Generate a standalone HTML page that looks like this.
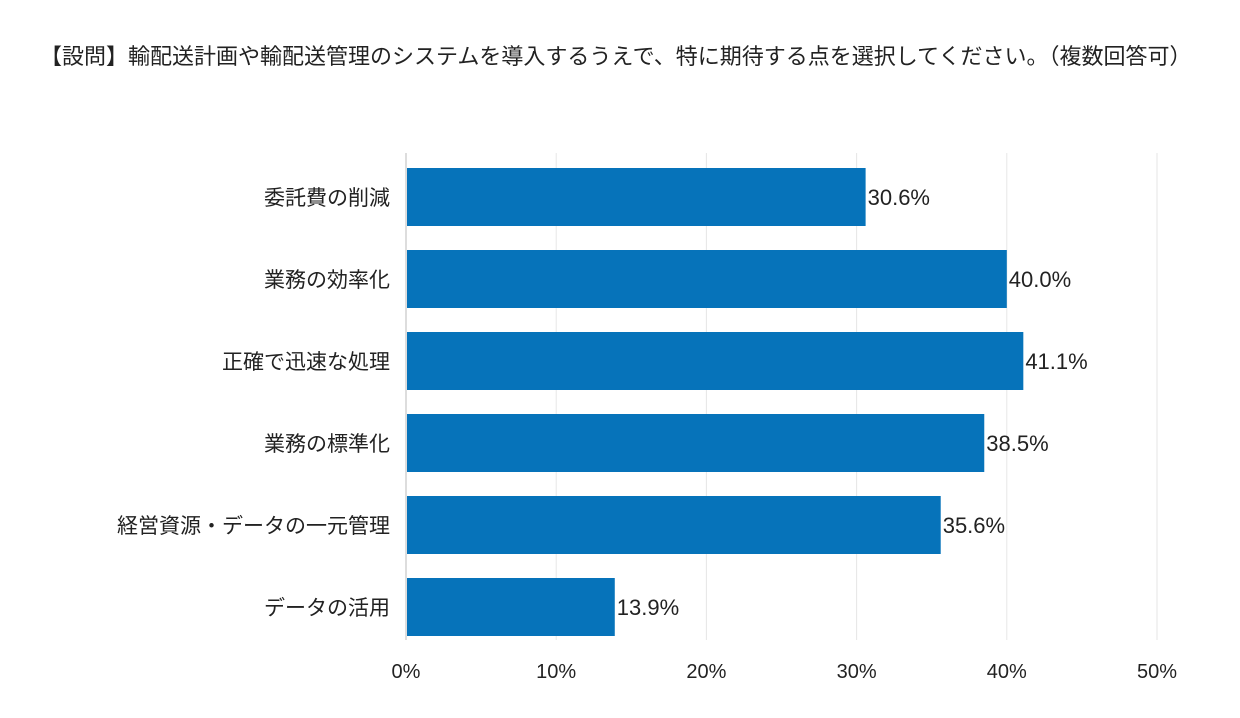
<!DOCTYPE html>
<html><head><meta charset="utf-8"><style>
body{margin:0;background:#fff;width:1240px;height:718px;overflow:hidden;font-family:"Liberation Sans","Noto Sans CJK JP",sans-serif;}
.title{position:absolute;left:40px;top:34px;width:1160px;font-size:22px;line-height:45px;color:#222;}
</style></head><body>
<div class="title">【設問】輸配送計画や輸配送管理のシステムを導入するうえで、特に期待する点を選択してください。（複数回答可）</div>
<svg id="chart" width="1240" height="718" style="position:absolute;left:0;top:0"></svg>
<script>
const categories=["委託費の削減","業務の効率化","正確で迅速な処理","業務の標準化","経営資源・データの一元管理","データの活用"];
const values=[30.6,40.0,41.1,38.5,35.6,13.9];
const ticks=[0,10,20,30,40,50];
const svg=document.getElementById('chart');
const NS='http://www.w3.org/2000/svg';
const x0=406,pxPer=15.02,top0=155,band=82,barH=58;
const xs=v=>x0+v*pxPer;
function mk(t,a){const e=document.createElementNS(NS,t);for(const k in a)e.setAttribute(k,a[k]);svg.appendChild(e);return e;}
ticks.forEach(t=>{
  const g=mk('line',{x1:xs(t),x2:xs(t),y1:153,y2:640,stroke:t===0?'#bbb':'#e6e6e6','stroke-width':1});
  
  
  const l=mk('text',{x:xs(t),y:678,'text-anchor':'middle','font-size':20,fill:'#222'});
  l.textContent=t+'%';
  
  
});
categories.forEach((c,i)=>{
  const y=top0+i*band+13;
  const r=mk('rect',{x:x0+1,y:y,width:xs(values[i])-x0-1,height:barH,fill:'#0673BA'});
  
  
  const v=mk('text',{x:xs(values[i])+2,y:y+barH/2+8,'font-size':22,fill:'#222'});
  v.textContent=values[i].toFixed(1)+'%';
  
  
  const l=mk('text',{x:390,y:y+barH/2+8,'text-anchor':'end','font-size':21,fill:'#222'});
  l.textContent=c;
  
  
});
</script>
</body></html>
